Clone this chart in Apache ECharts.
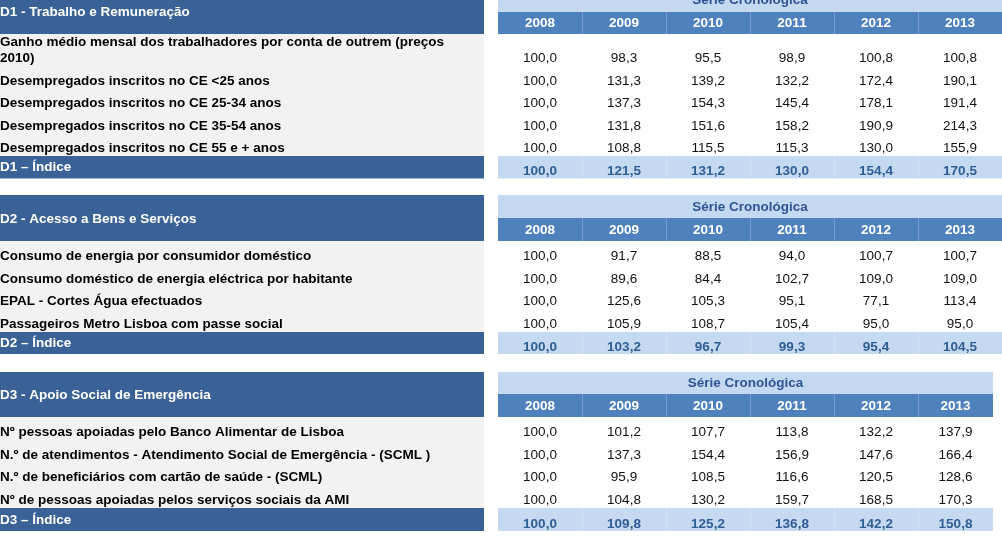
<!DOCTYPE html>
<html>
<head>
<meta charset="utf-8">
<script src="https://cdn.jsdelivr.net/npm/echarts@6/dist/echarts.min.js"></script>
<style>html,body{margin:0;padding:0;background:#fff}#c{width:1002px;height:536px}</style>
</head>
<body>
<div id="c"></div>
<script>
// ---------- DATA ----------
const sectionTitles = ['D1 - Trabalho e Remuneração', 'D2 - Acesso a Bens e Serviços', 'D3 - Apoio Social de Emergência'];
const indexLabels = ['D1 – Índice', 'D2 – Índice', 'D3 – Índice'];
const seriesTitle = 'Série Cronológica';
const years = ['2008', '2009', '2010', '2011', '2012', '2013'];

const d1Labels = [
  'Ganho médio mensal dos trabalhadores por conta de outrem (preços\n2010)',
  'Desempregados inscritos no CE <25 anos',
  'Desempregados inscritos no CE 25-34 anos',
  'Desempregados inscritos no CE 35-54 anos',
  'Desempregados inscritos no CE 55 e + anos'
];
const d1Values = [
  [100.0, 98.3, 95.5, 98.9, 100.8, 100.8],
  [100.0, 131.3, 139.2, 132.2, 172.4, 190.1],
  [100.0, 137.3, 154.3, 145.4, 178.1, 191.4],
  [100.0, 131.8, 151.6, 158.2, 190.9, 214.3],
  [100.0, 108.8, 115.5, 115.3, 130.0, 155.9]
];
const d1Index = [100.0, 121.5, 131.2, 130.0, 154.4, 170.5];

const d2Labels = [
  'Consumo de energia por consumidor doméstico',
  'Consumo doméstico de energia eléctrica por habitante',
  'EPAL - Cortes Água efectuados',
  'Passageiros Metro Lisboa com passe social'
];
const d2Values = [
  [100.0, 91.7, 88.5, 94.0, 100.7, 100.7],
  [100.0, 89.6, 84.4, 102.7, 109.0, 109.0],
  [100.0, 125.6, 105.3, 95.1, 77.1, 113.4],
  [100.0, 105.9, 108.7, 105.4, 95.0, 95.0]
];
const d2Index = [100.0, 103.2, 96.7, 99.3, 95.4, 104.5];

const d3Labels = [
  'Nº pessoas apoiadas pelo Banco Alimentar de Lisboa',
  'N.º de atendimentos - Atendimento Social de Emergência - (SCML )',
  'N.º de beneficiários com cartão de saúde - (SCML)',
  'Nº de pessoas apoiadas pelos serviços sociais da AMI'
];
const d3Values = [
  [100.0, 101.2, 107.7, 113.8, 132.2, 137.9],
  [100.0, 137.3, 154.4, 156.9, 147.6, 166.4],
  [100.0, 95.9, 108.5, 116.6, 120.5, 128.6],
  [100.0, 104.8, 130.2, 159.7, 168.5, 170.3]
];
const d3Index = [100.0, 109.8, 125.2, 136.8, 142.2, 150.8];

const allLabels = [d1Labels, d2Labels, d3Labels];
const allValues = [d1Values, d2Values, d3Values];
const allIndex = [d1Index, d2Index, d3Index];

// ---------- LAYOUT (axis units) ----------
const L = {
  secTop: [-12, 195, 372],
  bandH: [24, 23, 22],
  yearH: [22, 23, 23],
  firstRowH: [32, 22.75, 22.75],
  rowH: [22.5, 22.75, 22.75],
  indexH: [22.5, 22, 23],
  leftW: 484,
  colX0: 498,
  colW: 84,
  lastColW: [84, 84, 75]
};
const FONT = '"Liberation Sans", Arial, sans-serif';
const FS = '13.5px ';
const C = {
  dark: '#3a6296', year: '#4f81bd', band: '#c5d9f1', idx: '#c5d9f1',
  gray: '#f2f2f2', idxText: '#2f5d95', bandText: '#2f5597'
};
function fmt(v) { return v.toFixed(1).replace('.', ','); }
function colLeft(c) { return L.colX0 + c * L.colW; }
function colWidth(s, c) { return c === years.length - 1 ? L.lastColW[s] : L.colW; }
function bodyTop(s) { return L.secTop[s] + L.bandH[s] + L.yearH[s]; }
function rowBottom(s, r) {
  let y = bodyTop(s) + L.firstRowH[s];
  for (let i = 1; i <= r; i++) y += L.rowH[s];
  return y;
}
function bodyBottom(s) { return rowBottom(s, allLabels[s].length - 1); }

// ---------- CELLS (logical) ----------
// kind: 0 left header, 1 band, 2 year cell, 3 left body, 4 row label, 5 value, 6 index label, 7 index value
const cells = [];
for (let s = 0; s < 3; s++) {
  cells.push([0, s, 0, 0]);
  cells.push([1, s, 0, 0]);
  years.forEach((y, c) => cells.push([2, s, 0, c]));
  cells.push([3, s, 0, 0]);
  allLabels[s].forEach((lab, r) => {
    cells.push([4, s, r, 0]);
    allValues[s][r].forEach((v, c) => cells.push([5, s, r, c]));
  });
  cells.push([6, s, 0, 0]);
  allIndex[s].forEach((v, c) => cells.push([7, s, 0, c]));
}

function renderItem(params, api) {
  const k = api.value(0), s = api.value(1), r = api.value(2), c = api.value(3);
  const P = (x, y) => api.coord([x, y]);
  const rect = (x0, y0, x1, y1, fill) => {
    const a = P(x0, y0), b = P(x1, y1);
    return { type: 'rect', shape: { x: a[0], y: a[1], width: b[0] - a[0], height: b[1] - a[1] }, style: { fill: fill } };
  };
  const text = (str, x, y, fill, weight, align) => {
    const p = P(x, y);
    return { type: 'text', style: { text: str, x: p[0], y: p[1], fill: fill, font: weight + ' ' + FS + FONT, align: align, verticalAlign: 'middle' } };
  };
  const line = (x, y0, y1, color) => {
    const a = P(x, y0), b = P(x, y1);
    return { type: 'line', shape: { x1: a[0] + 0.5, y1: a[1], x2: b[0] + 0.5, y2: b[1] }, style: { stroke: color, lineWidth: 1 } };
  };
  const top = L.secTop[s];
  const rightEnd = colLeft(years.length - 1) + L.lastColW[s];
  if (k === 0) {
    const h = L.bandH[s] + L.yearH[s];
    return { type: 'group', children: [rect(0, top, L.leftW, top + h, C.dark), text(sectionTitles[s], 0, top + h / 2 + 1, '#ffffff', 'bold', 'left')] };
  }
  if (k === 1) {
    return { type: 'group', children: [rect(L.colX0, top, rightEnd, top + L.bandH[s], C.band), text(seriesTitle, (L.colX0 + rightEnd) / 2, top + L.bandH[s] / 2 + 0.5, C.bandText, 'bold', 'center')] };
  }
  if (k === 2) {
    const y0 = top + L.bandH[s], y1 = y0 + L.yearH[s];
    const x0 = colLeft(c), w = colWidth(s, c);
    const ch = [rect(x0, y0, x0 + w, y1, C.year)];
    if (c > 0) ch.push(line(x0, y0, y1, '#7a9fd0'));
    ch.push(text(years[c], x0 + w / 2, (y0 + y1) / 2 + 0.5, '#ffffff', 'bold', 'center'));
    return { type: 'group', children: ch };
  }
  if (k === 3) {
    return rect(0, bodyTop(s), L.leftW, bodyBottom(s), C.gray);
  }
  if (k === 4) {
    const lines = allLabels[s][r].split('\n');
    const yb = rowBottom(s, r) - 7.5;
    return { type: 'group', children: lines.map((t, i) => text(t, 0, yb - (lines.length - 1 - i) * 16, '#000000', 'bold', 'left')) };
  }
  if (k === 5) {
    const x0 = colLeft(c), w = colWidth(s, c);
    return text(fmt(allValues[s][r][c]), x0 + w / 2, rowBottom(s, r) - 7.5, '#111111', 'normal', 'center');
  }
  if (k === 6) {
    const y0 = bodyBottom(s), y1 = y0 + L.indexH[s];
    return { type: 'group', children: [rect(0, y0, L.leftW, y1, C.dark), text(indexLabels[s], 0, y1 - 11, '#ffffff', 'bold', 'left')] };
  }
  if (k === 7) {
    const y0 = bodyBottom(s), y1 = y0 + L.indexH[s];
    const x0 = colLeft(c), w = colWidth(s, c);
    const ch = [rect(x0, y0, x0 + w, y1, C.idx)];
    if (c > 0) ch.push(line(x0, y0, y1, '#d6e3f3'));
    ch.push(text(fmt(allIndex[s][c]), x0 + w / 2, y1 - 7, C.idxText, 'bold', 'center'));
    return { type: 'group', children: ch };
  }
  return null;
}

const chart = echarts.init(document.getElementById('c'), null, { renderer: 'canvas' });
chart.setOption({
  backgroundColor: '#ffffff',
  animation: false,
  grid: { left: 0, right: 0, top: 0, bottom: 0 },
  xAxis: { type: 'value', min: 0, max: 1002, show: false },
  yAxis: { type: 'value', min: 0, max: 536, inverse: true, show: false },
  series: [{
    type: 'custom',
    coordinateSystem: 'cartesian2d',
    clip: false,
    silent: true,
    encode: { x: 3, y: 2 },
    renderItem: renderItem,
    data: cells
  }]
});
</script>
</body>
</html>
